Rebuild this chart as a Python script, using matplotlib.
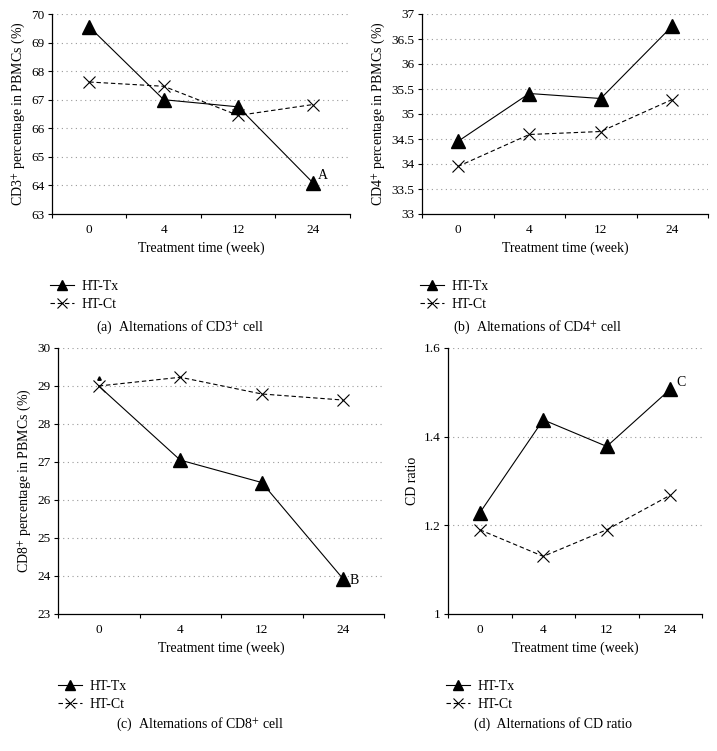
import matplotlib
matplotlib.use("Agg")
import matplotlib.pyplot as plt
import matplotlib.transforms as mtransforms

plt.rcParams['font.family'] = ['Liberation Serif', 'DejaVu Serif']
plt.rcParams['mathtext.fontset'] = 'stix'

weeks = ["0", "4", "12", "24"]
series_names = ["HT-Tx", "HT-Ct"]

cd3_tx = [69.55, 67.0, 66.75, 64.1]
cd3_ct = [67.62, 67.47, 66.45, 66.83]
cd4_tx = [34.45, 35.41, 35.31, 36.76]
cd4_ct = [33.95, 34.59, 34.65, 35.29]
cd8_tx = [29.0, 27.05, 26.46, 23.92]
cd8_ct = [29.0, 29.23, 28.79, 28.63]
ratio_tx = [1.228, 1.438, 1.378, 1.507]
ratio_ct = [1.19, 1.13, 1.19, 1.268]

cd3_ticks = [63, 64, 65, 66, 67, 68, 69, 70]
cd4_ticks = [33, 33.5, 34, 34.5, 35, 35.5, 36, 36.5, 37]
cd8_ticks = [23, 24, 25, 26, 27, 28, 29, 30]
ratio_ticks = [1, 1.2, 1.4, 1.6]

W, H = 717, 751
fig = plt.figure(figsize=(W / 100, H / 100), dpi=100)

FS = 9.5
LFS = 10.0

def rect(l, r, t, b):
    return [l / W, 1 - b / H, (r - l) / W, (b - t) / H]

panels = [
    dict(rect=rect(52, 350, 14, 214), tx=cd3_tx, ct=cd3_ct, ticks=cd3_ticks,
         ticklabels=[str(t) for t in cd3_ticks],
         ylabel="CD3$^{+}$ percentage in PBMCs (%)", note="A", note_off=(3.5, 5),
         legend=(50, 280), caption="(a)  Alternations of CD3$^{+}$ cell", cap=(180, 327),
         tx_markevery=[0, 1, 2, 3]),
    dict(rect=rect(422, 708, 14, 214), tx=cd4_tx, ct=cd4_ct, ticks=cd4_ticks,
         ticklabels=["33", "33.5", "34", "34.5", "35", "35.5", "36", "36.5", "37"],
         ylabel="CD4$^{+}$ percentage in PBMCs (%)", note=None, note_off=None,
         legend=(420, 280), caption="(b)  Alternations of CD4$^{+}$ cell", cap=(538, 327),
         tx_markevery=[0, 1, 2, 3]),
    dict(rect=rect(58, 384, 348, 614), tx=cd8_tx, ct=cd8_ct, ticks=cd8_ticks,
         ticklabels=[str(t) for t in cd8_ticks],
         ylabel="CD8$^{+}$ percentage in PBMCs (%)", note="B", note_off=(4.5, -1),
         legend=(58, 680), caption="(c)  Alternations of CD8$^{+}$ cell", cap=(200, 724),
         tx_markevery=[1, 2, 3]),
    dict(rect=rect(448, 702, 348, 614), tx=ratio_tx, ct=ratio_ct, ticks=ratio_ticks,
         ticklabels=["1", "1.2", "1.4", "1.6"],
         ylabel="CD ratio", note="C", note_off=(4.5, 5),
         legend=(446, 680), caption="(d)  Alternations of CD ratio", cap=(553, 724),
         tx_markevery=[0, 1, 2, 3]),
]

x = list(range(len(weeks)))

for i, p in enumerate(panels):
    ax = fig.add_axes(p["rect"])
    ax.set_xlim(-0.5, len(weeks) - 0.5)
    ax.set_ylim(p["ticks"][0], p["ticks"][-1])
    for t in p["ticks"][1:]:
        ax.axhline(t, color="#9a9a9a", lw=0.8, ls=(0, (1, 3.2)), zorder=0)
    ax.plot(x, p["tx"], color="black", lw=0.8, marker="^", ms=9.5,
            markevery=p["tx_markevery"], label=series_names[0], zorder=3, clip_on=False)
    ax.plot(x, p["ct"], color="black", lw=0.8, ls=(0, (4, 2.5)), marker="x", ms=8.5,
            mew=0.8, label=series_names[1], zorder=3, clip_on=False)
    if i == 2:
        tr = mtransforms.offset_copy(ax.transData, fig=fig, x=0, y=5.5, units="points")
        ax.plot([x[0]], [p["tx"][0]], marker="^", ms=2.5, color="black", ls="none",
                transform=tr)
    if p["note"]:
        ax.annotate(p["note"], xy=(x[-1], p["tx"][-1]), xytext=p["note_off"],
                    textcoords="offset points", ha="left", va="center", fontsize=FS + 0.5)
    ax.set_yticks(p["ticks"])
    ax.set_yticklabels(p["ticklabels"], fontsize=FS)
    ax.set_xticks([v - 0.5 for v in range(len(weeks) + 1)])
    ax.set_xticklabels([])
    ax.set_xticks(x, minor=True)
    ax.set_xticklabels(weeks, minor=True, fontsize=FS)
    ax.tick_params(axis="x", which="minor", length=0, pad=7)
    ax.tick_params(axis="x", which="major", length=3, width=0.8, direction="out")
    ax.tick_params(axis="y", length=3, width=0.8, direction="out", pad=2.5)
    for s in ["top", "right"]:
        ax.spines[s].set_visible(False)
    for s in ["left", "bottom"]:
        ax.spines[s].set_linewidth(0.9)
    ax.set_xlabel("Treatment time (week)", fontsize=LFS, labelpad=4)
    ax.set_ylabel(p["ylabel"], fontsize=LFS, labelpad=3)

    lx, ly = p["legend"]
    leg = ax.legend(loc="upper left", bbox_to_anchor=(lx / W, 1 - ly / H),
                    bbox_transform=fig.transFigure, frameon=False, fontsize=LFS,
                    borderaxespad=0, borderpad=0, handlelength=1.7, handletextpad=0.6,
                    labelspacing=0.35, markerscale=0.8)
    cx, cy = p["cap"]
    fig.text(cx / W, 1 - cy / H, p["caption"], ha="center", va="center", fontsize=LFS)

fig.savefig("out.png", dpi=100)
